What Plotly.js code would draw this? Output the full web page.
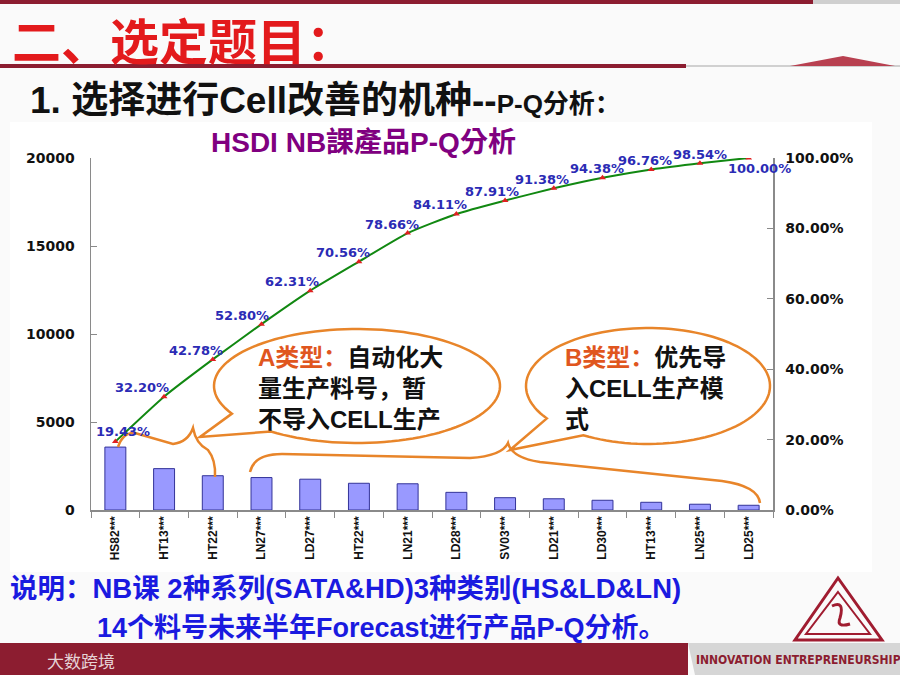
<!DOCTYPE html>
<html>
<head>
<meta charset="utf-8">
<script src="https://cdn.plot.ly/plotly-3.0.1.min.js"></script>
<style>html,body{margin:0;padding:0;background:#fafafa;}#chart{width:900px;height:675px;}</style>
</head>
<body>
<div id="chart"></div>
<script>
// ---------- data ----------
const models = ['HS82***','HT13***','HT22***','LN27***','LD27***','HT22***','LN21***','LD28***','SV03***','LD21***','LD30***','HT13***','LN25***','LD25***'];
const quantity = [3575, 2350, 1947, 1844, 1750, 1518, 1490, 1003, 699, 638, 552, 438, 328, 269];
const cumulativePct = [19.43, 32.20, 42.78, 52.80, 62.31, 70.56, 78.66, 84.11, 87.91, 91.38, 94.38, 96.76, 98.54, 100.00];
const leftTicks = [0, 5000, 10000, 15000, 20000];
const rightTicks = [0, 0.2, 0.4, 0.6, 0.8, 1.0];

// ---------- layout helpers (pixel -> paper) ----------
const L = 91, T = 158, W = 682, H = 352;
const px = x => (x - L) / W;
const py = y => (T + H - y) / H;
const f = v => v.toFixed(5);
function pathPx(cmds) {
  return cmds.map(c => c[0] + ' ' + c.slice(1).map((v, i) => i % 2 === 0 ? f(px(v)) : f(py(v))).join(',')).join(' ');
}
function rectPx(x0, y0, x1, y1, color, layer) {
  return {type: 'rect', xref: 'paper', yref: 'paper', x0: px(x0), x1: px(x1), y0: py(y0), y1: py(y1),
          fillcolor: color, line: {width: 0}, layer: layer || 'below'};
}
function bubble(cx, cy, rx, ry, a1, a2, tx, ty) {
  const cmds = [];
  for (let a = a1; a <= a2 + 0.001; a += 3) {
    const r = a * Math.PI / 180;
    cmds.push([cmds.length ? 'L' : 'M', cx + rx * Math.cos(r), cy + ry * Math.sin(r)]);
  }
  cmds.push(['L', tx, ty]);
  return {type: 'path', xref: 'paper', yref: 'paper', path: pathPx(cmds) + ' Z',
          fillcolor: 'white', line: {color: '#e8852a', width: 2.5}, layer: 'above'};
}
const orange = '#e8852a';
const darkRed = '#8c1d30';

// label offsets (style only)
const labelShiftX = [8, -22, -17, -20, -18, -16, -16, -16, -13, -12, -6, -6, 0, 11];
const labelShiftY = [10, 9, 9, 9, 9, 9, 9, 9, 9, 9, 9, 9, 9, -10];

const xIdx = models.map((_, i) => i);

const traces = [
  {type: 'bar', x: xIdx, y: quantity, width: 0.43,
   marker: {color: '#9999ff', line: {color: '#333399', width: 1}}, hoverinfo: 'skip'},
  {type: 'scatter', mode: 'lines+markers', x: xIdx, y: cumulativePct.map(v => v / 100), yaxis: 'y2',
   line: {color: '#118811', width: 2, shape: 'spline', smoothing: 0.5},
   marker: {symbol: 'triangle-up', color: '#e02020', size: 6}, hoverinfo: 'skip'}
];

const annotations = cumulativePct.map((v, i) => ({
  x: i, y: v / 100, xref: 'x', yref: 'y2', text: '<b>' + v.toFixed(2) + '%</b>', showarrow: false,
  xshift: labelShiftX[i], yshift: labelShiftY[i],
  font: {family: 'DejaVu Sans', size: 13, color: '#2b2bb5'}
}));

const annPx = (x, y, text, font, xanchor) => ({
  xref: 'paper', yref: 'paper', x: px(x), y: py(y), text: text, showarrow: false,
  xanchor: xanchor || 'left', yanchor: 'middle', align: 'left', font: font
});

annotations.push(
  annPx(10, 38, '<b>二、选定题目：</b>', {family: 'Noto Sans CJK SC', size: 49, color: '#e31a1c'}),
  annPx(28, 100, '<b>1. 选择进行Cell改善的机种--<span style="font-size:26px">P-Q分析：</span></b>',
        {family: 'Liberation Sans, Noto Sans CJK SC', size: 37, color: '#111111'}),
  annPx(363, 142, '<b>HSDI NB課產品P-Q分析</b>', {family: 'Liberation Sans, Noto Sans CJK TC', size: 28, color: '#800080'}, 'center'),
  annPx(256, 388, '<b><span style="color:#e0561e">A类型：</span>自动化大<br>量生产料号，暂<br>不导入CELL生产</b>',
        {family: 'Liberation Sans, Noto Sans CJK SC', size: 24, color: '#111111'}),
  annPx(563, 388, '<b><span style="color:#e0561e">B类型：</span>优先导<br>入CELL生产模<br>式</b>',
        {family: 'Liberation Sans, Noto Sans CJK SC', size: 24, color: '#111111'}),
  annPx(8, 588, '<b>说明：NB课 2种系列(SATA&amp;HD)3种类别(HS&amp;LD&amp;LN)</b>',
        {family: 'Liberation Sans, Noto Sans CJK SC', size: 27.5, color: '#1a1ae0'}),
  annPx(95, 628, '<b>14个料号未来半年Forecast进行产品P-Q分析。</b>',
        {family: 'Liberation Sans, Noto Sans CJK SC', size: 27, color: '#1a1ae0'}),
  annPx(798, 660, '<b>INNOVATION ENTREPRENEURSHIP</b>',
        {family: 'DejaVu Sans Condensed, Liberation Sans', size: 12, color: darkRed}, 'center'),
  annPx(45, 660, '大数跨境', {family: 'Noto Sans CJK SC', size: 17, color: '#e6d3d6'})
);

const shapes = [
  rectPx(10, 122, 872, 572, '#ffffff'),
  rectPx(0, 0, 813, 4, darkRed), rectPx(813, 0, 900, 4, '#cfcfcf'),
  rectPx(0, 64, 686, 68, darkRed), rectPx(686, 65, 900, 67, '#d0d0d0'),
  {type: 'path', xref: 'paper', yref: 'paper', path: pathPx([['M', 790, 66], ['L', 843, 56], ['L', 895, 66]]) + ' Z',
   fillcolor: '#b84050', line: {width: 0}, layer: 'below'},
  rectPx(0, 643, 688, 675, darkRed),
  {type: 'path', xref: 'paper', yref: 'paper', path: pathPx([['M', 688, 643], ['L', 900, 643], ['L', 900, 675], ['L', 695, 675]]) + ' Z',
   fillcolor: '#d6d6d6', line: {width: 0}, layer: 'below'},
  // logo triangle
  {type: 'path', xref: 'paper', yref: 'paper', path: pathPx([['M', 838, 578], ['L', 882, 640], ['L', 795, 640]]) + ' Z',
   fillcolor: 'rgba(0,0,0,0)', line: {color: '#a01c30', width: 3}, layer: 'below'},
  {type: 'path', xref: 'paper', yref: 'paper', path: pathPx([['M', 838, 592], ['L', 870, 634], ['L', 806, 634]]) + ' Z',
   fillcolor: 'rgba(0,0,0,0)', line: {color: '#a01c30', width: 2}, layer: 'below'},
  {type: 'path', xref: 'paper', yref: 'paper', path: pathPx([['M', 832, 606], ['Q', 845, 600, 840, 618], ['Q', 836, 628, 850, 624]]),
   line: {color: '#a01c30', width: 3}, layer: 'below'},
  // bubbles
  bubble(357, 386, 143, 57, 151, 489, 200, 437),
  bubble(648, 386, 122, 58, 146, 482, 510, 450),
  // braces
  {type: 'path', xref: 'paper', yref: 'paper', layer: 'above', line: {color: orange, width: 2.5},
   path: pathPx([['M', 118, 447], ['Q', 123, 432, 135, 433], ['L', 173, 444], ['Q', 188, 442, 193, 428],
                 ['Q', 196, 444, 208, 450], ['Q', 216, 460, 215, 477]])},
  {type: 'path', xref: 'paper', yref: 'paper', layer: 'above', line: {color: orange, width: 2.5},
   path: pathPx([['M', 250, 472], ['Q', 254, 454, 282, 454], ['L', 470, 458], ['Q', 502, 456, 508, 443],
                 ['Q', 512, 458, 540, 462], ['L', 722, 481], ['Q', 758, 486, 760, 503]])}
];

const layout = {
  width: 900, height: 675,
  margin: {l: L, r: 900 - L - W, t: T, b: 675 - T - H},
  paper_bgcolor: '#fafafa', plot_bgcolor: 'rgba(0,0,0,0)',
  showlegend: false, bargap: 0,
  xaxis: {range: [-0.5, 13.5], tickmode: 'array', tickvals: xIdx, ticktext: models, tickangle: -90,
          ticks: '', showline: true, linecolor: '#8a8a8a', linewidth: 1.5, showgrid: false, zeroline: false,
          tickfont: {family: 'Liberation Sans', size: 12, color: '#111', weight: 'bold'},
          minor: {tick0: 0.5, dtick: 1, ticks: 'outside', ticklen: 6, tickcolor: '#8a8a8a', showgrid: false},
          fixedrange: true},
  yaxis: {range: [0, 20000], tickmode: 'array', tickvals: leftTicks, tickformat: 'd', ticks: 'inside', ticklen: 6, tickcolor: '#8a8a8a',
          showline: true, linecolor: '#8a8a8a', linewidth: 1.5, showgrid: false, zeroline: false,
          ticklabelstandoff: 12,
          tickfont: {family: 'DejaVu Sans', size: 14, color: '#111', weight: 'bold'}},
  yaxis2: {range: [0, 1], overlaying: 'y', side: 'right', tickmode: 'array', tickvals: rightTicks, tickformat: '.2%',
           ticks: 'inside', ticklen: 6, tickcolor: '#8a8a8a', showline: true, linecolor: '#8a8a8a', linewidth: 1.5,
           showgrid: false, zeroline: false, ticklabelstandoff: 8,
           tickfont: {family: 'DejaVu Sans', size: 14, color: '#111', weight: 'bold'}},
  shapes: shapes,
  annotations: annotations
};

Plotly.newPlot('chart', traces, layout, {staticPlot: true, displayModeBar: false});
</script>
</body>
</html>
